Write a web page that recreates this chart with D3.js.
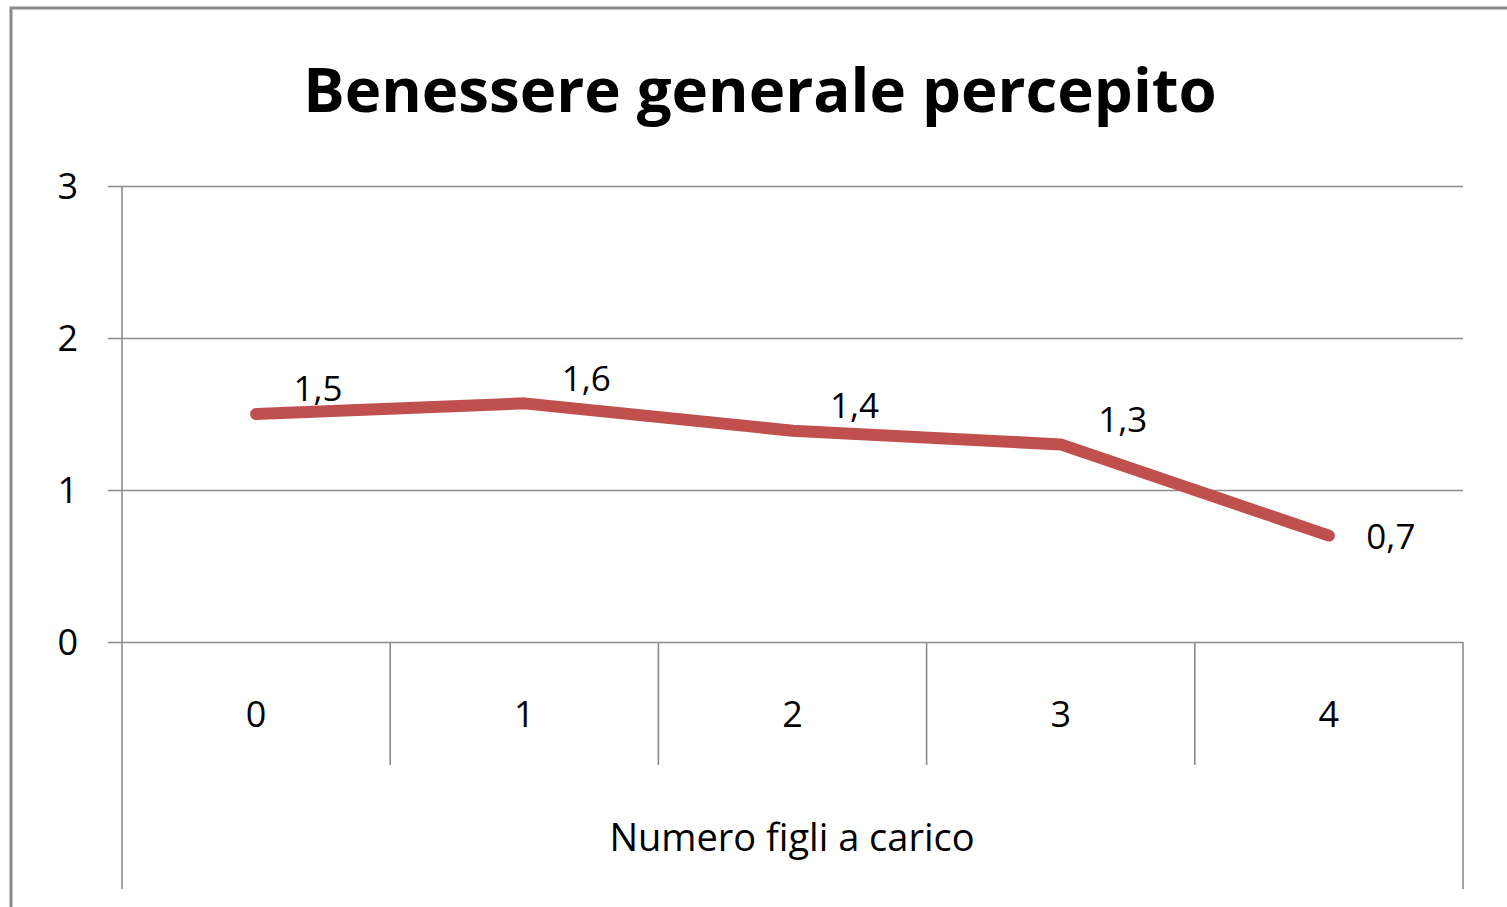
<!DOCTYPE html>
<html>
<head>
<meta charset="utf-8">
<script src="https://cdn.jsdelivr.net/npm/d3@7"></script>
<style>
  body { margin: 0; background: #fff; }
  svg text { font-family: "Open Sans", "Noto Sans", sans-serif; fill: #000; }
</style>
</head>
<body>
<script>
// chart data
let categories = ["0", "1", "2", "3", "4"];
let values = [1.5, 1.57, 1.39, 1.3, 0.7];
let yTicks = [0, 1, 2, 3];
let titleText = "Benessere generale percepito";
let xTitle = "Numero figli a carico";

let width = 1507,
    height = 907;

let svg = d3.select("body").append("svg")
    .attr("width", width)
    .attr("height", height);

// outer chart frame
svg.append("rect")
    .attr("x", 11).attr("y", 8)
    .attr("width", width + 20).attr("height", height + 20)
    .attr("fill", "#fff")
    .attr("stroke", "#8a8a8a")
    .attr("stroke-width", 3);

let plotLeft = 122, plotRight = 1463, plotTop = 186, plotBottom = 642;

let x = d3.scaleBand().domain(categories).range([plotLeft, plotRight]);
let y = d3.scaleLinear().domain([0, 3]).range([plotBottom, plotTop]);

// title, fitted to the reference width
let title = svg.append("text")
    .attr("x", 760).attr("y", 112)
    .attr("text-anchor", "middle")
    .attr("font-weight", "bold")
    .attr("font-size", 60)
    .text(titleText);
let tw = title.node().getComputedTextLength();
title.attr("font-size", 60 * 914 / tw);

// horizontal gridlines + y labels
let yAxis = d3.axisLeft(y).tickValues(yTicks).tickFormat(d3.format("d"))
    .tickSize(-(plotRight - plotLeft)).tickPadding(0);
let gy = svg.append("g").attr("transform", `translate(${plotLeft},0)`).call(yAxis);
gy.select(".domain").remove();
gy.selectAll(".tick line")
    .attr("x1", -14)
    .attr("stroke", "#8c8c8c").attr("stroke-width", 1.6);
gy.selectAll(".tick text")
    .attr("x", -44).attr("dy", "0.35em")
    .attr("font-family", null)
    .attr("font-size", 36)
    .attr("fill", "#000");

// y axis line (extends down through the category area)
svg.append("line")
    .attr("x1", plotLeft).attr("x2", plotLeft)
    .attr("y1", plotTop).attr("y2", 889)
    .attr("stroke", "#8c8c8c").attr("stroke-width", 1.6);
svg.append("line")
    .attr("x1", plotRight).attr("x2", plotRight)
    .attr("y1", plotBottom).attr("y2", 889)
    .attr("stroke", "#8c8c8c").attr("stroke-width", 1.6);

// category separators
svg.append("g").selectAll("line")
    .data(categories.slice(1))
    .enter().append("line")
    .attr("x1", d => x(d)).attr("x2", d => x(d))
    .attr("y1", plotBottom).attr("y2", 765)
    .attr("stroke", "#8c8c8c").attr("stroke-width", 1.6);

// category labels
svg.append("g").selectAll("text")
    .data(categories)
    .enter().append("text")
    .attr("x", d => x(d) + x.bandwidth() / 2)
    .attr("y", 714)
    .attr("dy", "0.35em")
    .attr("text-anchor", "middle")
    .attr("font-size", 36)
    .text(d => d);

svg.append("text")
    .attr("x", 792).attr("y", 838)
    .attr("dy", "0.35em")
    .attr("text-anchor", "middle")
    .attr("font-size", 38)
    .text(xTitle);

// the series line
let line = d3.line()
    .x((d, i) => x(categories[i]) + x.bandwidth() / 2)
    .y(d => y(d));

svg.append("path")
    .datum(values)
    .attr("d", line)
    .attr("fill", "none")
    .attr("stroke", "#c0504d")
    .attr("stroke-width", 12)
    .attr("stroke-linecap", "round")
    .attr("stroke-linejoin", "round");

// data labels
let fmt = d => d3.format(".1f")(d).replace(".", ",");
svg.append("g").selectAll("text")
    .data(values)
    .enter().append("text")
    .attr("x", (d, i) => x(categories[i]) + x.bandwidth() / 2 + 62)
    .attr("y", (d, i) => y(d) + (i === values.length - 1 ? 1 : -25))
    .attr("dy", "0.35em")
    .attr("text-anchor", "middle")
    .attr("font-size", 35)
    .text(fmt);
</script>
</body>
</html>
